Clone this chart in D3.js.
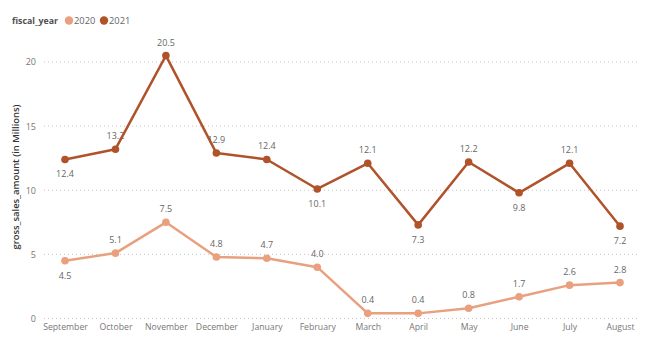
<!DOCTYPE html>
<html><head><meta charset="utf-8">
<script src="https://cdn.jsdelivr.net/npm/d3@7"></script>
<style>body{margin:0;background:#fff;font-family:"Open Sans",sans-serif;}</style>
</head><body><svg id="c" width="650" height="342"></svg>
<script>
const months = ["September","October","November","December","January","February","March","April","May","June","July","August"];
const sales2020 = [4.5,5.1,7.5,4.8,4.7,4.0,0.4,0.4,0.8,1.7,2.6,2.8];
const sales2021 = [12.4,13.2,20.5,12.9,12.4,10.1,12.1,7.3,12.2,9.8,12.1,7.2];
const pos2020 = ["below","above","above","above","above","above","above","above","above","above","above","above"];
const pos2021 = ["below","above","above","above","above","below","above","below","above","below","above","below"];
const yTicks = [0,5,10,15,20];
const seriesNames = ["2020","2021"];
const colors = ["#E8A07F","#B0532B"];
const FONT = "'Open Sans',sans-serif";

const svg = d3.select("#c");
const x = d3.scalePoint().domain(months).range([65,620]);
const y = d3.scaleLinear().domain([0,20]).range([318.5,62]);

svg.append("g").selectAll("line").data(yTicks).join("line")
  .attr("x1",44).attr("x2",640).attr("y1",d=>y(d)).attr("y2",d=>y(d))
  .attr("stroke","#C8C6C4").attr("stroke-width",1).attr("stroke-dasharray","1,3");

const ya = svg.append("g").attr("transform","translate(36,0)")
  .call(d3.axisLeft(y).tickValues(yTicks).tickSize(0).tickPadding(0));
ya.select(".domain").remove();
ya.selectAll("text").attr("fill","#777").style("font-size","9px").style("font-family",FONT);

const xa = svg.append("g").attr("transform","translate(0,321)")
  .call(d3.axisBottom(x).tickSize(0).tickPadding(3));
xa.select(".domain").remove();
xa.selectAll("text").attr("fill","#777").style("font-size","8.7px").style("font-family",FONT);

svg.append("text").attr("transform","translate(19,177) rotate(-90)")
  .attr("text-anchor","middle").attr("fill","#333")
  .style("font-size","9.4px").style("font-weight","600").style("font-family",FONT)
  .text("gross_sales_amount (in Millions)");

const data = [sales2020, sales2021];
const poss = [pos2020, pos2021];

data.forEach((vals,i)=>{
  svg.append("g").selectAll("text").data(vals).join("text")
    .attr("x",(d,j)=>x(months[j]))
    .attr("y",(d,j)=>poss[i][j]==="above"? y(d)-10 : y(d)+18)
    .attr("text-anchor","middle").attr("fill","#666")
    .style("font-size","9px").style("font-family",FONT)
    .text(d=>d.toFixed(1));
});

const line = d3.line().x((d,j)=>x(months[j])).y(d=>y(d));
data.forEach((vals,i)=>{
  svg.append("path").datum(vals).attr("d",line).attr("fill","none")
    .attr("stroke",colors[i]).attr("stroke-width",2.5).attr("stroke-linejoin","round");
  svg.append("g").selectAll("circle").data(vals).join("circle")
    .attr("cx",(d,j)=>x(months[j])).attr("cy",d=>y(d)).attr("r",3.8).attr("fill",colors[i]);
});

const lg = svg.append("g").style("font-family",FONT);
lg.append("text").attr("x",12).attr("y",24).attr("fill","#505050")
  .style("font-size","8.8px").style("font-weight","700").text("fiscal_year");
const lx = [69,104];
seriesNames.forEach((s,i)=>{
  lg.append("circle").attr("cx",lx[i]).attr("cy",20.5).attr("r",4.2).attr("fill",colors[i]);
  lg.append("text").attr("x",lx[i]+5).attr("y",24).attr("fill","#666")
    .style("font-size","9.3px").text(s);
});
</script></body></html>
